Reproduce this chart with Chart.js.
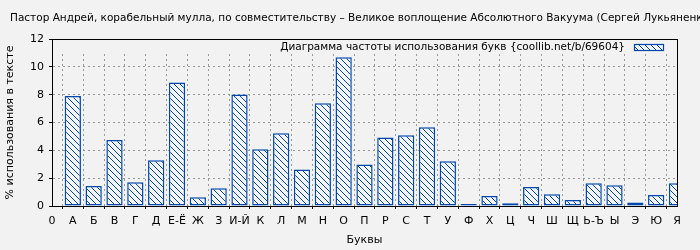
<!DOCTYPE html>
<html>
<head>
<meta charset="utf-8">
<script src="https://cdn.jsdelivr.net/npm/chart.js@4/dist/chart.umd.min.js"></script>
<style>
html,body{margin:0;padding:0;background:#f2f2f2;}
#wrap{width:700px;height:250px;}
</style>
</head>
<body>
<div id="wrap"><canvas id="c" width="700" height="250"></canvas></div>
<script>
const chartTitle = "Пастор Андрей, корабельный мулла, по совместительству – Великое воплощение Абсолютного Вакуума (Сергей Лукьяненко)";
const legendLabel = "Диаграмма частоты использования букв {coollib.net/b/69604}";
const xTitle = "Буквы";
const yTitle = "% использования в тексте";
const categories = ["0","А","Б","В","Г","Д","Е-Ё","Ж","З","И-Й","К","Л","М","Н","О","П","Р","С","Т","У","Ф","Х","Ц","Ч","Ш","Щ","Ь-Ъ","Ы","Э","Ю","Я"];
const values = [0,7.9,1.44,4.74,1.70,3.28,8.88,0.62,1.27,8.02,4.07,5.22,2.63,7.38,10.68,2.99,4.93,5.08,5.65,3.21,0.14,0.72,0.19,1.36,0.84,0.43,1.63,1.49,0.26,0.79,1.63];
const yTicks = [0,2,4,6,8,10,12];

const BLUE = '#0047ad';
const BG = '#f2f2f2';

function makePattern(){
  const p = document.createElement('canvas');
  p.width = 6; p.height = 6;
  const g = p.getContext('2d');
  g.fillStyle = '#f4f6fb';
  g.fillRect(0,0,6,6);
  g.strokeStyle = BLUE;
  g.lineWidth = 1;
  g.beginPath();
  g.moveTo(-1,-1); g.lineTo(7,7);
  g.moveTo(-7,-1); g.lineTo(1,7);
  g.moveTo(5,-1); g.lineTo(13,7);
  g.stroke();
  return document.getElementById('c').getContext('2d').createPattern(p,'repeat');
}
const pattern = makePattern();

const deco = {
  id:'deco',
  beforeDraw(chart){
    const ctx = chart.ctx;
    ctx.save();
    ctx.fillStyle = BG;
    ctx.fillRect(0,0,chart.width,chart.height);
    ctx.restore();
  },
  beforeDatasetsDraw(chart){
    const ctx = chart.ctx, a = chart.chartArea;
    ctx.save();
    ctx.fillStyle = BG;
    ctx.fillRect(a.left+1, a.top+1, a.right-a.left-2, 13);
    ctx.restore();
  },
  afterDatasetsDraw(chart){
    const ctx = chart.ctx, a = chart.chartArea;
    ctx.save();
    ctx.strokeStyle = '#000';
    ctx.lineWidth = 1;
    ctx.strokeRect(Math.round(a.left)+0.5, Math.round(a.top)+0.5, Math.round(a.right-a.left), Math.round(a.bottom-a.top));
    // legend
    ctx.font = '10.5px "DejaVu Sans"';
    ctx.fillStyle = '#000';
    ctx.textBaseline = 'middle';
    ctx.textAlign = 'right';
    const bx = a.right - 43, by = a.top + 5;
    ctx.fillText(legendLabel, bx - 9, by + 3);
    ctx.fillStyle = pattern;
    ctx.fillRect(bx, by, 30, 7);
    ctx.strokeStyle = BLUE;
    ctx.lineWidth = 1.2;
    ctx.strokeRect(bx+0.5, by+0.5, 29, 6);
    // title
    ctx.fillStyle = '#000';
    ctx.textAlign = 'left';
    ctx.font = '10.5px "DejaVu Sans"';
    ctx.fillText(chartTitle, 10, 18);
    // axis titles
    ctx.textAlign = 'center';
    ctx.font = '11px "DejaVu Sans"';
    ctx.fillText(xTitle, (a.left+a.right)/2, 240);
    ctx.translate(10, (a.top+a.bottom)/2);
    ctx.rotate(-Math.PI/2);
    ctx.fillText(yTitle, 0, 0);
    ctx.restore();
  }
};

new Chart(document.getElementById('c'), {
  type:'bar',
  data:{
    labels: categories,
    datasets:[{
      label: legendLabel,
      data: values,
      backgroundColor: pattern,
      borderColor: BLUE,
      borderWidth: 1.5,
      borderSkipped: false,
      categoryPercentage: 1,
      barPercentage: 0.78
    }]
  },
  options:{
    responsive:false,
    animation:false,
    events:[],
    layout:{padding:{top:39,right:23,left:0,bottom:0}},
    plugins:{legend:{display:false},title:{display:false},tooltip:{enabled:false}},
    scales:{
      x:{
        offset:false,
        grid:{color:'#999',lineWidth:1,tickLength:3,tickColor:'#000',drawOnChartArea:true},
        border:{display:true,color:'#000',dash:[2,3]},
        ticks:{color:'#000',font:{family:'DejaVu Sans',size:11},maxRotation:0,autoSkip:false,padding:6},
        afterFit(s){ s.height = 44; }
      },
      y:{
        min:0,max:12,
        afterBuildTicks(s){ s.ticks = yTicks.map(v=>({value:v})); },
        grid:{color:'#999',lineWidth:1,tickLength:3,tickColor:'#000'},
        border:{display:true,color:'#000',dash:[2,3]},
        ticks:{color:'#000',font:{family:'DejaVu Sans',size:11},padding:5},
        afterFit(s){ s.width = 52; }
      }
    }
  },
  plugins:[deco]
});
</script>
</body>
</html>
